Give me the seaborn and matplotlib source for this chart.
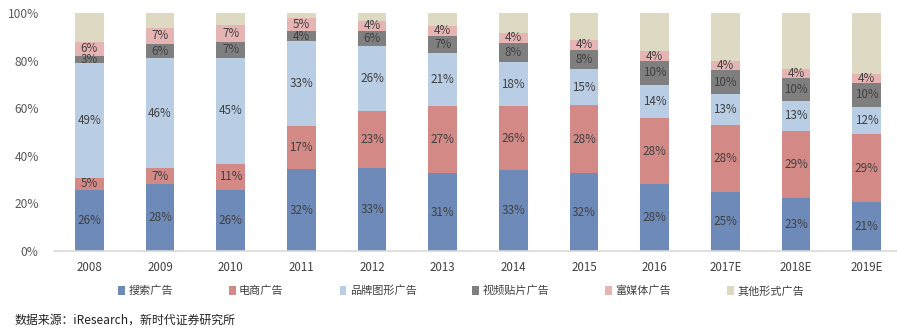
import matplotlib
matplotlib.use("Agg")
import matplotlib.pyplot as plt
import seaborn as sns
import pandas as pd
import numpy as np
from matplotlib.patches import Patch

sns.set_theme(style="white")
plt.rcParams['font.family'] = ['Noto Sans CJK SC', 'DejaVu Sans']

years = ["2008", "2009", "2010", "2011", "2012", "2013", "2014", "2015",
         "2016", "2017E", "2018E", "2019E"]
series_names = ["搜索广告", "电商广告", "品牌图形广告", "视频贴片广告", "富媒体广告", "其他形式广告"]
search = [26, 28, 26, 32, 33, 31, 33, 32, 28, 25, 23, 21]
ecommerce = [5, 7, 11, 17, 23, 27, 26, 28, 28, 28, 29, 29]
brand = [49, 46, 45, 33, 26, 21, 18, 15, 14, 13, 13, 12]
video = [3, 6, 7, 4, 6, 7, 8, 8, 10, 10, 10, 10]
richmedia = [6, 7, 7, 5, 4, 4, 4, 4, 4, 4, 4, 4]
other = [12, 6, 5, 2, 3, 5, 8, 11, 16, 20, 24, 26]
colors = ["#6E8AB9", "#D38A87", "#B9CDE5", "#7F7F7F", "#E6B4B3", "#DDD9C3"]

all_series = [search, ecommerce, brand, video, richmedia, other]
raw = np.array(all_series, dtype=float)
totals = raw.sum(axis=0)
pct = raw / totals * 100

rows = []
for si, name in enumerate(series_names):
    for yi, yr in enumerate(years):
        rows.append({"year": yr, "series": name, "value": raw[si, yi], "pct": pct[si, yi]})
df = pd.DataFrame(rows)

fig = plt.figure(figsize=(8.97, 3.30), dpi=100)
ax = fig.add_axes([54 / 897, 0.2394, (902 - 54) / 897, 0.7203])

bottoms = np.zeros(len(years))
x = np.arange(len(years))
for si, name in enumerate(series_names):
    sub = df[df.series == name]
    vals = sub["pct"].to_numpy()
    ax.bar(x, vals, bottom=bottoms, width=0.41, color=colors[si], linewidth=0, zorder=2)
    if si < 5:
        for xi, (v, b, r) in enumerate(zip(vals, bottoms, sub["value"].to_numpy())):
            ax.text(xi, b + v / 2, f"{int(r)}%", ha="center", va="center",
                    fontsize=8.4, color="#404040", zorder=3)
    bottoms = bottoms + vals

ax.set_xlim(-0.5, len(years) - 0.5)
ax.set_ylim(0, 100)
ax.set_xticks(x)
ax.set_xticklabels(years, fontsize=8.3, color="#404040")
ax.set_yticks([0, 20, 40, 60, 80, 100])
ax.set_yticklabels([f"{v}%" for v in [0, 20, 40, 60, 80, 100]], fontsize=8.6, color="#595959")
ax.tick_params(axis="both", length=0, pad=7)
ax.tick_params(axis="y", pad=11)
for s in ["top", "right", "left"]:
    ax.spines[s].set_visible(False)
ax.spines["bottom"].set_color("#D9D9D9")
ax.spines["bottom"].set_linewidth(1.2)
ax.grid(False)

handles = [Patch(facecolor=c, edgecolor="none") for c in colors]
leg = fig.legend(handles, series_names, loc="center", ncol=6,
                 bbox_to_anchor=(0.514, 1 - 291 / 330), frameon=False,
                 fontsize=8.0, handlelength=0.6, handleheight=0.8, handletextpad=0.3,
                 columnspacing=5.05)
for t in leg.get_texts():
    t.set_color("#404040")

fig.text(14 / 897, 1 - 320 / 330, "数据来源：iResearch，新时代证券研究所",
         fontsize=8.6, color="#222222", ha="left", va="center")

fig.savefig("out.png", dpi=100)
